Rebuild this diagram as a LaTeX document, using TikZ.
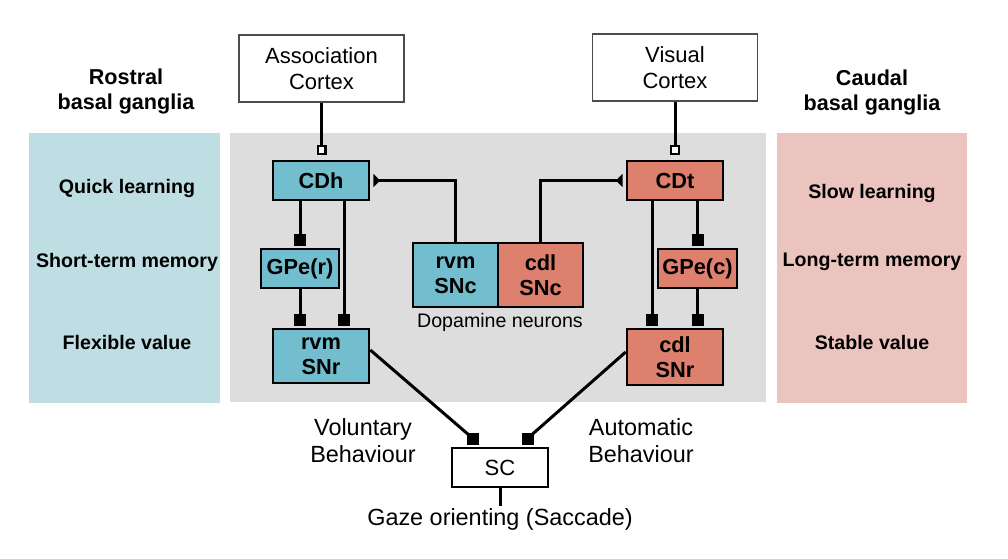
\documentclass[tikz,border=0pt]{standalone}
\usepackage{fontspec}
\setmainfont{Liberation Sans}
\usetikzlibrary{arrows.meta}

\definecolor{rostral}{RGB}{114,190,206}
\definecolor{caudal}{RGB}{221,128,110}
\definecolor{rostralbg}{RGB}{190,222,228}
\definecolor{caudalbg}{RGB}{236,196,191}
\definecolor{corebg}{RGB}{221,221,221}

\begin{document}
\begin{tikzpicture}[x=0.5pt, y=-0.5pt,
    cortex/.style={draw=black!70, line width=0.6pt, fill=white, minimum width=82.5pt,
        minimum height=33.5pt, inner sep=0pt, align=center, font=\fontsize{11}{13}\selectfont},
    nucleus/.style={draw, line width=1.3pt, inner sep=0pt, align=center, minimum height=19.5pt,
        font=\bfseries\fontsize{10.9}{12.5}\selectfont},
    rbox/.style={nucleus, fill=rostral},
    cbox/.style={nucleus, fill=caudal},
    heading/.style={align=center, font=\bfseries\fontsize{10.8}{12.5}\selectfont},
    trait/.style={font=\bfseries\fontsize{9.8}{11}\selectfont},
    behav/.style={align=center, inner sep=1pt, font=\fontsize{11.7}{13.5}\selectfont},
    syn/.style={fill=black, minimum size=6pt, inner sep=0pt},
    conn/.style={line width=1.5pt},
    excite/.style={conn, -{Square[length=6pt,width=6pt]}, shorten >=1pt},
    cortical/.style={conn, -{Square[fill=white,length=5pt,width=5pt,line width=1.1pt]}, shorten >=2.5pt},
    dopa/.style={conn, -{Triangle[reversed,length=3.5pt,width=6.5pt]}, shorten >=1.5pt}]

    % Fix the page to the size of the reference
    \useasboundingbox (0,0) rectangle (1008,558);

    % Background panels for the rostral, central and caudal parts
    \fill[rostralbg] (29,133) rectangle (220,403);
    \fill[corebg] (230,133) rectangle (766,402);
    \fill[caudalbg] (777,133) rectangle (967,403);

    % Headings above the side panels
    \node[heading] (rostralhead) at (126,91) {Rostral\\basal ganglia};
    \node[heading] (caudalhead) at (872,92) {Caudal\\basal ganglia};

    % Properties of each side
    \node[trait] (quick) at (127,188) {Quick learning};
    \node[trait] (short) at (127,262) {Short-term memory};
    \node[trait] (flexible) at (127,342) {Flexible value};
    \node[trait] (slow) at (872,193) {Slow learning};
    \node[trait] (long) at (872,262) {Long-term memory};
    \node[trait] (stable) at (872,342) {Stable value};

    % Cortical input areas
    \node[cortex] (assoc) at (321.5,68.5) {Association\\Cortex};
    \node[cortex] (visual) at (675,67.5) {Visual\\Cortex};

    % Striatum, GPe and SNr of the two loops
    \node[rbox, minimum width=48pt] (CDh) at (321,180.5) {CDh};
    \node[rbox, minimum width=39pt] (GPer) at (300,268.5) {GPe(r)};
    \node[rbox, minimum width=48pt, minimum height=27pt] (rvmSNr) at (321,356) {rvm\\SNr};
    \node[cbox, minimum width=48pt] (CDt) at (675,180.5) {CDt};
    \node[cbox, minimum width=39.5pt] (GPec) at (697.5,268.5) {GPe(c)};
    \node[cbox, minimum width=48pt, minimum height=28pt] (cdlSNr) at (675,357) {cdl\\SNr};

    % Dopamine neurons, the two halves share one edge
    \node[rbox, minimum width=42.5pt, minimum height=32pt] (rvmSNc) at (455.5,275) {rvm\\SNc};
    \node[cbox, minimum width=42.5pt, minimum height=32pt] (cdlSNc) at (540.5,275) {cdl\\SNc};
    \node[behav, font=\fontsize{9.8}{11}\selectfont] (dopamine) at (500,322) {Dopamine neurons};

    % Superior colliculus and the behaviour labels
    \node[nucleus, fill=white, font=\fontsize{11}{13}\selectfont, minimum width=48pt] (SC) at (500,467.5) {SC};
    \node[behav] (voluntary) at (363,441) {Voluntary\\Behaviour};
    \node[behav] (automatic) at (641,441) {Automatic\\Behaviour};
    \node[behav] (gaze) at (500,519) {Gaze orienting (Saccade)};

    % Cortical inputs to the caudate
    \draw[cortical] (assoc.south) -- (assoc.south |- CDh.north);
    \draw[cortical] (visual.south) -- (visual.south |- CDt.north);

    % Rostral loop
    \draw[excite] (CDh.south -| GPer.north) -- (GPer.north);
    \draw[excite] ([xshift=11.5pt]CDh.south) -- ([xshift=11.5pt]CDh.south |- rvmSNr.north);
    \draw[excite] (GPer.south) -- (GPer.south |- rvmSNr.north);

    % Caudal loop
    \draw[excite] (CDt.south -| GPec.north) -- (GPec.north);
    \draw[excite] ([xshift=-11.5pt]CDt.south) -- ([xshift=-11.5pt]CDt.south |- cdlSNr.north);
    \draw[excite] (GPec.south) -- (GPec.south |- cdlSNr.north);

    % Dopamine feedback to the caudate
    \draw[dopa] (rvmSNc.north) |- (CDh.east);
    \draw[dopa] (cdlSNc.north) |- (CDt.west);

    % Outputs to SC
    \draw[conn] ([yshift=3pt]rvmSNr.east) -- (473,438.5) coordinate (synL);
    \draw[conn] ([yshift=2.5pt]cdlSNr.west) -- (527.5,438.5) coordinate (synR);
    \node[syn] at (synL) {};
    \node[syn] at (synR) {};
    \draw[conn] (SC.south) -- (gaze.north);

\end{tikzpicture}
\end{document}
